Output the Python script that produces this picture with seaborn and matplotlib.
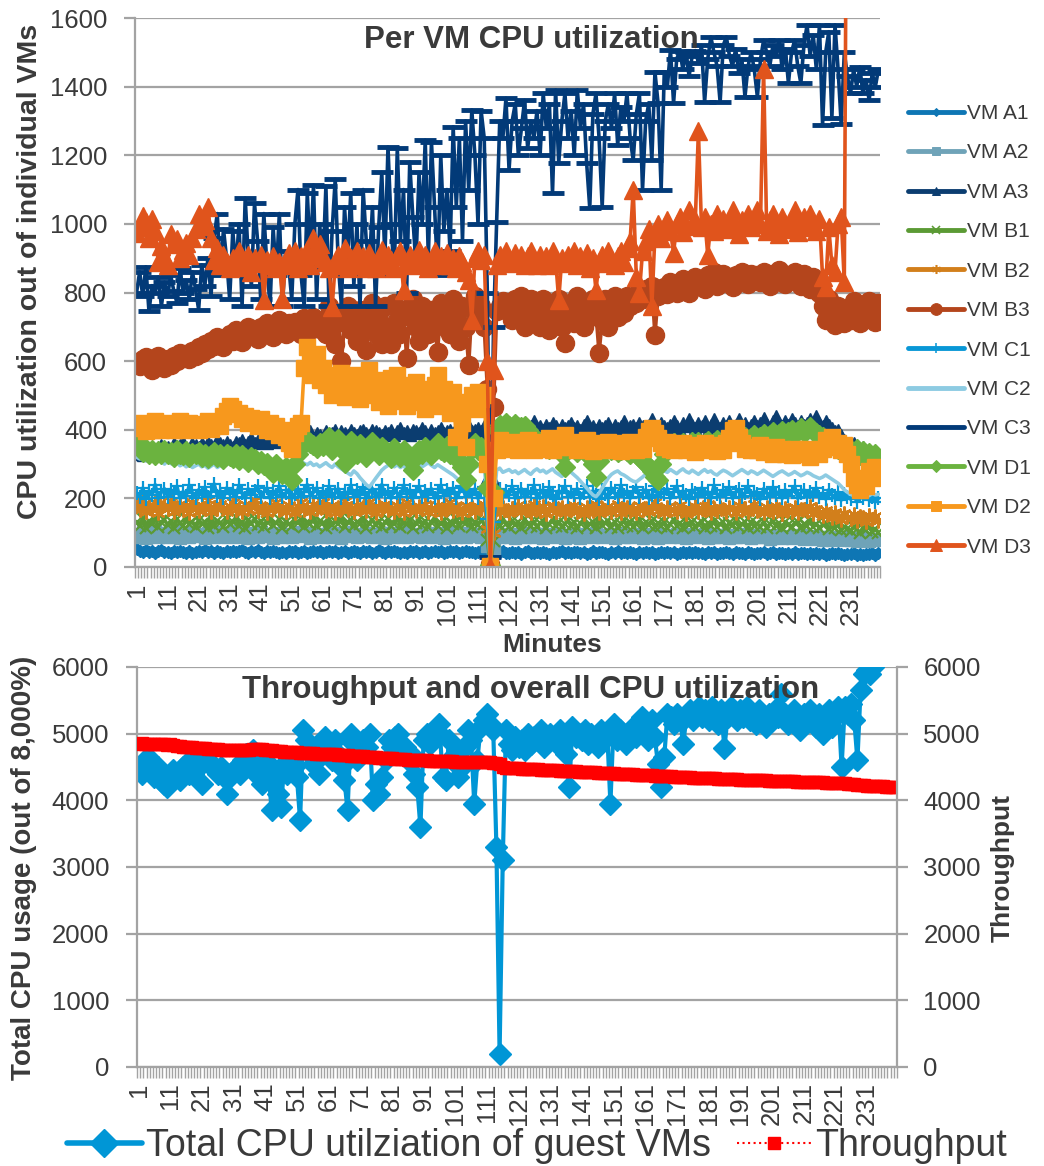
import matplotlib
matplotlib.use("Agg")
import matplotlib.pyplot as plt
import numpy as np
import seaborn as sns
from matplotlib.lines import Line2D

nan = float("nan")

MINUTES = list(range(1, 241))
XTICK_LABELS = list(range(1, 232, 10))

VM_A1 = [
    52, 48, 45, 50, 44, 47, 42, 46, 49, 44, 45, 41, 47, 43, 48, 44, 40, 46, 42, 45,
    47, 43, 49, 44, 46, 42, 48, 45, 41, 47, 44, 48, 43, 46, 50, 45, 42, 47, 44, 49,
    45, 41, 46, 43, 48, 44, 40, 45, 42, 47, 43, 46, 41, 45, 48, 42, 44, 47, 43, 46,
    42, 45, 48, 43, 46, 41, 44, 47, 42, 45, 48, 44, 41, 46, 43, 47, 42, 45, 49, 44,
    41, 46, 43, 48, 44, 40, 45, 42, 47, 43, 46, 41, 45, 48, 42, 44, 47, 43, 46, 41,
    45, 48, 43, 46, 42, 44, 47, 43, 45, 41, 44, 46, 42, 30, 0, 28, 40, 43, 46, 42,
    40, 44, 41, 45, 39, 43, 46, 42, 40, 44, 41, 45, 42, 39, 44, 40, 43, 46, 41, 44,
    40, 43, 45, 41, 44, 39, 42, 46, 40, 43, 45, 41, 39, 44, 42, 46, 40, 43, 41, 45,
    42, 39, 44, 41, 45, 40, 43, 38, 42, 44, 40, 43, 41, 45, 39, 42, 44, 40, 43, 41,
    44, 40, 42, 38, 43, 41, 45, 39, 42, 40, 43, 41, 38, 44, 40, 42, 39, 43, 41, 38,
    42, 40, 44, 39, 41, 43, 38, 42, 40, 37, 41, 39, 43, 38, 42, 40, 37, 41, 39, 42,
    38, 40, 36, 39, 41, 37, 40, 38, 36, 39, 37, 40, 36, 38, 35, 39, 37, 40, 36, 42,
]
VM_A2 = [
    95, 88, 102, 84, 97, 90, 105, 86, 93, 99, 87, 96, 91, 104, 85, 98, 92, 88, 101, 94,
    89, 97, 84, 100, 92, 87, 103, 95, 90, 86, 98, 92, 105, 88, 95, 90, 84, 99, 93, 87,
    101, 94, 89, 97, 85, 92, 100, 88, 95, 91, 86, 98, 93, 102, 89, 95, 84, 99, 91, 96,
    88, 94, 101, 87, 93, 98, 85, 96, 90, 103, 92, 87, 97, 89, 100, 94, 86, 95, 91, 98,
    85, 93, 99, 88, 96, 90, 104, 87, 94, 89, 97, 92, 86, 100, 91, 95, 88, 98, 93, 85,
    96, 90, 102, 88, 94, 99, 86, 92, 97, 89, 95, 88, 100, 60, 2, 55, 92, 86, 97, 90,
    88, 94, 85, 97, 90, 86, 99, 92, 87, 95, 91, 84, 96, 89, 93, 87, 98, 90, 85, 94,
    88, 96, 91, 84, 97, 89, 93, 86, 99, 90, 87, 93, 89, 96, 84, 91, 98, 88, 94, 86,
    92, 89, 97, 85, 93, 88, 95, 90, 84, 96, 89, 94, 86, 91, 97, 88, 92, 85, 95, 90,
    86, 93, 89, 96, 84, 91, 88, 94, 87, 92, 90, 85, 93, 88, 95, 86, 91, 89, 84, 92,
    88, 94, 86, 90, 83, 92, 87, 89, 85, 91, 87, 84, 90, 86, 92, 83, 88, 85, 90, 82,
    86, 80, 84, 88, 78, 85, 81, 87, 79, 83, 80, 85, 77, 82, 79, 84, 76, 81, 78, 83,
]
VM_A3 = [
    330, 340, 325, 345, 335, 350, 330, 345, 355, 340, 350, 345, 360, 340, 355, 365, 350, 345, 360, 355,
    350, 360, 345, 365, 355, 350, 370, 360, 355, 365, 355, 350, 365, 360, 370, 355, 365, 375, 360, 370,
    365, 375, 360, 370, 380, 365, 375, 370, 385, 375, 370, 380, 375, 390, 380, 385, 395, 380, 390, 385,
    380, 395, 385, 390, 400, 385, 395, 390, 385, 400, 390, 385, 395, 400, 390, 385, 400, 395, 390, 385,
    395, 390, 400, 385, 395, 405, 390, 395, 385, 400, 395, 390, 405, 395, 385, 400, 390, 395, 405, 390,
    395, 400, 390, 405, 395, 400, 390, 410, 395, 400, 405, 395, 410, 260, 5, 250, 400, 410, 420, 405,
    415, 400, 410, 420, 405, 415, 400, 410, 425, 405, 410, 400, 415, 405, 420, 410, 400, 415, 405, 410,
    420, 405, 410, 400, 415, 425, 405, 410, 400, 415, 405, 410, 420, 400, 415, 405, 410, 425, 400, 410,
    415, 405, 420, 410, 400, 415, 430, 410, 405, 420, 410, 405, 415, 425, 410, 400, 420, 410, 430, 415,
    405, 420, 410, 425, 400, 415, 430, 410, 405, 420, 410, 425, 405, 415, 430, 410, 420, 405, 415, 425,
    410, 420, 435, 415, 405, 425, 440, 420, 410, 425, 415, 430, 420, 410, 425, 415, 420, 430, 410, 440,
    420, 410, 425, 415, 405, 395, 400, 385, 370, 355, 345, 360, 340, 335, 350, 330, 340, 325, 335, 320,
]
VM_B1 = [
    130, 120, 140, 115, 135, 125, 145, 118, 130, 138, 122, 135, 115, 140, 128, 120, 145, 125, 132, 118,
    138, 125, 130, 115, 142, 120, 135, 128, 118, 140, 125, 132, 145, 120, 130, 115, 138, 126, 140, 122,
    135, 118, 130, 145, 122, 128, 140, 115, 132, 125, 120, 138, 128, 142, 118, 130, 125, 145, 120, 135,
    128, 115, 140, 122, 133, 126, 145, 118, 130, 138, 120, 132, 125, 142, 115, 128, 138, 122, 135, 118,
    130, 140, 120, 126, 145, 118, 132, 125, 138, 115, 128, 140, 122, 135, 118, 130, 145, 120, 126, 138,
    115, 132, 125, 140, 120, 135, 128, 145, 118, 130, 122, 138, 125, 80, 2, 75, 130, 120, 140, 125,
    118, 135, 122, 130, 115, 140, 125, 120, 132, 118, 128, 135, 115, 125, 140, 120, 130, 118, 126, 136,
    120, 130, 115, 128, 138, 118, 125, 132, 115, 140, 122, 128, 135, 118, 130, 115, 126, 138, 120, 132,
    118, 125, 140, 115, 130, 122, 135, 118, 128, 120, 132, 115, 125, 138, 120, 128, 115, 135, 122, 130,
    118, 126, 132, 115, 128, 120, 135, 118, 125, 130, 115, 128, 122, 135, 118, 125, 130, 115, 132, 120,
    126, 118, 130, 115, 125, 135, 120, 128, 115, 130, 122, 118, 128, 132, 115, 125, 120, 135, 118, 126,
    115, 122, 128, 110, 120, 115, 125, 108, 118, 112, 105, 118, 110, 100, 115, 108, 120, 102, 112, 100,
]
VM_B2 = [
    185, 165, 195, 160, 178, 170, 190, 158, 175, 182, 168, 192, 160, 175, 185, 165, 180, 158, 190, 172,
    162, 180, 170, 195, 160, 175, 168, 185, 172, 160, 178, 190, 165, 172, 160, 185, 170, 178, 195, 162,
    175, 168, 158, 182, 170, 190, 165, 175, 160, 180, 170, 158, 178, 188, 165, 172, 160, 185, 168, 175,
    190, 162, 170, 180, 158, 175, 168, 192, 165, 172, 160, 182, 170, 175, 162, 188, 168, 158, 178, 170,
    185, 165, 172, 160, 180, 170, 158, 190, 168, 175, 162, 178, 170, 185, 160, 172, 165, 182, 158, 175,
    168, 190, 162, 175, 170, 158, 182, 165, 175, 160, 178, 168, 185, 110, 3, 100, 170, 160, 175, 165,
    158, 172, 168, 180, 160, 175, 165, 158, 185, 170, 162, 178, 155, 170, 182, 160, 168, 175, 158, 172,
    165, 180, 160, 170, 155, 175, 168, 162, 185, 158, 172, 165, 178, 160, 170, 185, 158, 168, 175, 162,
    170, 158, 180, 165, 172, 160, 175, 190, 162, 168, 158, 175, 165, 170, 160, 182, 168, 155, 172, 165,
    178, 160, 170, 165, 185, 158, 172, 162, 175, 168, 160, 175, 168, 158, 180, 165, 172, 160, 170, 185,
    162, 170, 158, 175, 165, 160, 178, 168, 155, 172, 165, 160, 175, 158, 170, 168, 162, 178, 155, 170,
    160, 148, 165, 155, 142, 160, 150, 138, 158, 145, 140, 155, 135, 150, 145, 130, 152, 140, 148, 135,
]
VM_B3 = [
    598, 585, 605, 612, 590, 575, 600, 615, 595, 580, 605, 590, 615, 600, 625, 610, 620, 605, 630, 615,
    640, 625, 650, 635, 660, 645, 670, 655, 640, 665, 680, 660, 690, 670, 655, 685, 700, 675, 690, 665,
    700, 685, 710, 690, 670, 705, 720, 695, 680, 710, 690, 715, 700, 680, 725, 705, 690, 730, 710, 695,
    720, 680, 760, 700, 650, 740, 600, 710, 760, 690, 730, 660, 750, 700, 632, 720, 770, 680, 740, 650,
    760, 700, 650, 770, 720, 680, 750, 610, 730, 780, 700, 660, 760, 720, 680, 750, 700, 627, 770, 710,
    740, 680, 780, 720, 660, 760, 700, 589, 750, 790, 720, 760, 700, 520, 10, 466, 745, 760, 775, 750,
    765, 720, 780, 740, 790, 700, 760, 780, 730, 770, 700, 780, 740, 690, 770, 720, 780, 700, 653, 740,
    770, 710, 790, 740, 700, 770, 730, 780, 740, 623, 720, 780, 700, 760, 790, 730, 780, 740, 790, 760,
    790, 770, 800, 780, 810, 795, 820, 676, 790, 805, 815, 795, 830, 810, 800, 825, 840, 815, 800, 830,
    845, 820, 835, 810, 850, 830, 860, 820, 840, 855, 830, 845, 815, 850, 835, 860, 840, 825, 855, 835,
    850, 830, 860, 840, 820, 855, 835, 865, 845, 825, 850, 835, 860, 840, 820, 855, 830, 810, 845, 825,
    800, 760, 720, 780, 740, 705, 760, 730, 710, 750, 720, 775, 740, 710, 760, 730, 775, 745, 715, 770,
]
VM_C1 = [
    215, 205, 230, 198, 222, 210, 240, 200, 218, 228, 205, 225, 212, 235, 200, 220, 208, 238, 215, 202,
    225, 210, 232, 205, 218, 242, 208, 222, 200, 230, 212, 225, 205, 238, 215, 200, 228, 210, 222, 235,
    205, 218, 230, 200, 222, 210, 236, 205, 215, 225, 200, 212, 228, 205, 220, 240, 208, 218, 230, 202,
    222, 210, 235, 205, 215, 228, 200, 220, 212, 238, 205, 225, 210, 232, 200, 218, 228, 205, 215, 240,
    210, 222, 200, 230, 215, 205, 238, 212, 225, 200, 218, 235, 205, 222, 210, 228, 200, 215, 238, 208,
    225, 212, 230, 200, 218, 235, 205, 222, 210, 228, 200, 218, 232, 140, 1, 130, 215, 228, 205, 222,
    210, 235, 200, 218, 228, 205, 222, 212, 238, 200, 215, 225, 205, 232, 210, 198, 222, 215, 235, 205,
    220, 210, 228, 200, 215, 235, 205, 222, 210, 198, 225, 212, 200, 230, 215, 205, 238, 210, 222, 200,
    218, 232, 205, 215, 225, 200, 210, 235, 205, 220, 212, 228, 200, 218, 235, 205, 222, 210, 198, 225,
    215, 205, 230, 210, 220, 200, 238, 212, 205, 225, 210, 232, 200, 218, 226, 205, 215, 235, 208, 220,
    212, 198, 228, 215, 205, 232, 210, 220, 200, 225, 208, 218, 235, 200, 215, 225, 205, 220, 210, 230,
    205, 215, 198, 225, 210, 200, 218, 195, 212, 205, 198, 215, 190, 208, 200, 212, 195, 205, 190, 200,
]
VM_C2 = [
    320, 315, 318, 310, 322, 312, 305, 315, 308, 300, 310, 302, 298, 305, 295, 300, 292, 298, 290, 295,
    300, 292, 296, 288, 294, 300, 290, 296, 292, 298, 305, 295, 300, 292, 298, 290, 296, 302, 294, 288,
    292, 286, 280, 288, 275, 270, 282, 278, 268, 285, 290, 296, 300, 308, 302, 298, 305, 296, 300, 292,
    298, 304, 296, 290, 300, 292, 286, 280, 274, 268, 280, 272, 260, 250, 240, 233, 245, 258, 270, 282,
    290, 296, 300, 292, 298, 290, 296, 284, 278, 290, 296, 300, 292, 298, 304, 296, 290, 298, 292, 286,
    280, 274, 268, 260, 252, 246, 258, 270, 282, 290, 294, 300, 296, 190, 2, 180, 282, 288, 276, 280,
    284, 276, 280, 272, 278, 284, 276, 270, 280, 286, 278, 282, 274, 280, 286, 276, 270, 264, 272, 280,
    276, 268, 260, 250, 240, 230, 220, 210, 205, 215, 230, 245, 260, 270, 276, 280, 272, 268, 262, 255,
    250, 248, 255, 262, 270, 276, 280, 274, 268, 275, 280, 276, 284, 278, 272, 280, 286, 278, 274, 282,
    276, 270, 278, 284, 276, 280, 272, 268, 276, 282, 278, 272, 266, 272, 278, 284, 278, 272, 280, 276,
    270, 276, 282, 276, 270, 264, 270, 276, 280, 274, 268, 272, 278, 272, 266, 270, 276, 272, 266, 262,
    258, 262, 268, 262, 256, 250, 244, 235, 225, 218, 212, 208, 215, 210, 206, 212, 208, 214, 210, 212,
]
VM_C3 = [
    800, 860, 790, 875, 745, 820, 800, 845, 760, 830, 790, 850, 805, 770, 870, 800, 835, 780, 860, 810,
    750, 880, 820, 900, 790, 960, 1030, 850, 985, 900, 780, 980, 870, 1000, 760, 1075, 900, 820, 1060, 950,
    780, 1030, 880, 760, 990, 850, 1030, 760, 920, 880, 780, 1000, 1100, 850, 760, 1090, 900, 1113, 780, 1000,
    870, 1110, 760, 980, 1130, 880, 760, 1050, 900, 1090, 820, 1000, 760, 1100, 950, 880, 1050, 760, 990, 1150,
    900, 1224, 1000, 850, 1220, 950, 1100, 800, 1180, 1020, 880, 1150, 1000, 1244, 900, 1240, 1050, 850, 1200, 980,
    1100, 920, 1283, 1050, 1250, 950, 1300, 1100, 1332, 1200, 1000, 1330, 1250, 800, 30, 700, 1006, 1300, 1250, 1366,
    1157, 1300, 1350, 1200, 1280, 1360, 1220, 1300, 1250, 1330, 1200, 1380, 1280, 1350, 1090, 1390, 1177, 1300, 1380, 1250,
    1330, 1200, 1390, 1280, 1350, 1177, 1046, 1320, 1380, 1250, 1049, 1300, 1350, 1280, 1380, 1230, 1340, 1300, 1380, 1250,
    1186, 1320, 1380, 1099, 1300, 1350, 1186, 1443, 1352, 1100, 1443, 1400, 1507, 1352, 1480, 1505, 1450, 1500, 1430, 1490,
    1505, 1470, 1520, 1355, 1480, 1545, 1500, 1460, 1355, 1520, 1545, 1490, 1460, 1510, 1440, 1480, 1370, 1460, 1500, 1450,
    1370, 1480, 1535, 1500, 1460, 1520, 1490, 1535, 1450, 1510, 1410, 1500, 1535, 1460, 1410, 1520, 1580, 1490, 1550, 1450,
    1580, 1288, 1500, 1560, 1310, 1580, 1450, 1290, 1500, 1430, 1380, 1450, 1400, 1457, 1380, 1420, 1360, 1440, 1400, 1450,
]
VM_D1 = [
    364, 350, 335, 345, 330, 340, 325, 338, 330, 342, 328, 335, 322, 340, 330, 326, 338, 320, 332, 328,
    335, 322, 330, 318, 326, 334, 320, 328, 316, 330, 324, 318, 330, 312, 325, 318, 306, 322, 314, 300,
    310, 296, 304, 290, 274, 300, 285, 270, 290, 262, 254, 300, 330, 350, 365, 370, 362, 355, 348, 360,
    352, 365, 378, 340, 360, 372, 345, 303, 350, 368, 340, 330, 358, 346, 320, 352, 364, 338, 326, 350,
    342, 330, 318, 346, 334, 320, 340, 328, 312, 283, 320, 342, 330, 350, 338, 325, 345, 360, 340, 335,
    352, 330, 345, 320, 310, 290, 254, 300, 345, 360, 340, 350, 330, 230, 5, 220, 400, 415, 405, 420,
    410, 400, 418, 395, 408, 412, 398, 385, 380, 370, 365, 358, 352, 345, 360, 350, 340, 330, 292, 340,
    352, 346, 335, 350, 340, 330, 320, 300, 262, 310, 330, 345, 352, 340, 348, 335, 342, 350, 338, 330,
    342, 330, 320, 310, 300, 290, 280, 262, 254, 300, 330, 345, 352, 360, 348, 355, 362, 350, 356, 365,
    358, 364, 352, 360, 368, 356, 362, 370, 358, 366, 372, 360, 368, 376, 364, 372, 380, 368, 376, 384,
    372, 380, 388, 376, 384, 392, 380, 388, 396, 385, 392, 400, 388, 396, 404, 392, 400, 408, 396, 390,
    385, 378, 370, 362, 356, 350, 345, 340, 350, 335, 340, 330, 345, 325, 338, 320, 332, 318, 328, 315,
]
VM_D2 = [
    410, 405, 420, 395, 415, 400, 425, 410, 398, 418, 405, 420, 400, 415, 425, 398, 410, 420, 405, 415,
    400, 418, 408, 425, 402, 415, 420, 410, 440, 455, 470, 460, 445, 450, 430, 440, 420, 435, 425, 410,
    430, 415, 400, 420, 395, 410, 385, 400, 380, 360, 345, 390, 410, 420, 580, 640, 600, 560, 620, 545,
    580, 530, 560, 500, 540, 520, 565, 495, 530, 550, 510, 560, 490, 540, 520, 575, 500, 530, 480, 545,
    515, 470, 550, 500, 560, 485, 530, 470, 520, 500, 540, 480, 520, 460, 510, 490, 530, 560, 470, 520,
    490, 450, 510, 380, 470, 420, 350, 480, 500, 460, 510, 490, 500, 300, 4, 200, 340, 370, 350, 360,
    345, 365, 350, 340, 360, 345, 370, 355, 340, 365, 350, 345, 360, 375, 340, 365, 350, 370, 385, 360,
    350, 365, 340, 358, 345, 370, 352, 338, 360, 345, 355, 340, 365, 350, 345, 360, 338, 355, 345, 365,
    350, 340, 360, 345, 380, 395, 405, 390, 375, 360, 350, 365, 345, 340, 358, 345, 360, 340, 355, 345,
    335, 350, 345, 360, 340, 355, 345, 338, 352, 340, 360, 375, 400, 405, 380, 360, 345, 350, 340, 345,
    340, 355, 335, 348, 340, 330, 350, 335, 345, 330, 340, 325, 345, 332, 340, 328, 345, 320, 335, 342,
    330, 345, 370, 365, 380, 350, 362, 340, 355, 330, 300, 260, 240, 225, 250, 235, 280, 260, 290, 285,
]
VM_D3 = [
    973, 990, 1022, 1005, 960, 1015, 980, 890, 935, 905, 880, 970, 940, 955, 900, 925, 945, 910, 960, 985,
    1030, 995, 1010, 1050, 960, 895, 930, 880, 910, 890, 870, 900, 885, 920, 875, 895, 910, 860, 900, 885,
    910, 778, 895, 880, 905, 870, 890, 780, 880, 915, 890, 920, 870, 905, 895, 925, 880, 960, 910, 940,
    900, 890, 870, 758, 880, 910, 890, 930, 870, 900, 895, 920, 880, 905, 870, 915, 890, 870, 900, 925,
    880, 910, 895, 870, 905, 920, 807, 890, 910, 880, 900, 925, 885, 910, 870, 895, 920, 880, 905, 890,
    915, 880, 900, 870, 905, 890, 860, 836, 720, 900, 920, 895, 910, 600, 0, 575, 880, 910, 895, 920,
    900, 885, 915, 890, 910, 880, 905, 920, 895, 880, 910, 890, 905, 880, 920, 895, 778, 900, 885, 910,
    895, 920, 880, 905, 890, 915, 870, 900, 807, 890, 910, 885, 920, 895, 880, 905, 920, 890, 930, 950,
    1100, 845, 800, 920, 950, 985, 760, 970, 1000, 960, 990, 1010, 980, 915, 1000, 1020, 975, 995, 1040, 1000,
    1010, 1270, 990, 1020, 910, 1000, 980, 1030, 995, 1015, 985, 1005, 1040, 990, 970, 1010, 1000, 1030, 990, 1010,
    1040, 1000, 1450, 980, 1010, 1030, 995, 970, 1020, 1000, 985, 1010, 1040, 975, 1000, 1020, 990, 1030, 1000, 980,
    1015, 845, 815, 990, 880, 860, 1000, 1020, 830, 2600, nan, nan, nan, nan, nan, nan, nan, nan, nan, nan,
]

TOTAL_CPU = [
    4500, 4400, 4550, 4650, 4450, 4350, 4500, 4300, 4250, 4200, 4400, 4450, 4350, 4300, 4500, 4550, 4400, 4600, 4650, 4500,
    4250, 4700, 4600, 4550, 4450, 4400, 4500, 4350, 4100, 4350, 4450, 4500, 4400, 4600, 4700, 4650, 4750, 4500, 4350, 4250,
    4600, 4450, 3850, 4300, 4100, 3900, 4550, 4400, 4600, 4500, 4350, 3700, 5050, 4900, 4700, 4550, 4800, 4400, 4700, 4950,
    4800, 4600, 4900, 4700, 4500, 4300, 3850, 5000, 4850, 4600, 4700, 4900, 4800, 5000, 4000, 4250, 4100, 4350, 4600, 4900,
    4800, 4950, 5000, 4850, 4800, 4600, 4700, 4400, 4200, 3600, 4900, 5000, 4850, 4950, 5050, 5150, 4350, 4300, 4900, 4600,
    4700, 4350, 4500, 4800, 5050, 4900, 3950, 4600, 5100, 5200, 5300, 5150, 5050, 3300, 200, 3100, 5050, 4850, 4750, 4950,
    4800, 4900, 4750, 5000, 4850, 4950, 4900, 5050, 4800, 4900, 5000, 4950, 4850, 5050, 4900, 4700, 4200, 5100, 4950, 5000,
    4900, 5050, 4850, 5000, 4950, 4800, 5050, 4900, 5000, 3950, 5150, 4900, 5050, 4950, 4850, 5000, 5100, 4950, 5150, 5250,
    5050, 4900, 5200, 4950, 4550, 4200, 4650, 5300, 5250, 5150, 5300, 5200, 4850, 5250, 5350, 5200, 5300, 5400, 5250, 5350,
    5200, 5400, 5300, 5150, 5350, 4780, 5250, 5400, 5300, 5200, 5350, 5250, 5400, 5200, 5300, 5150, 5350, 5250, 5100, 5300,
    5200, 5350, 5250, 5600, 5300, 5150, 5250, 5350, 5200, 5050, 5300, 5200, 5350, 5250, 5100, 5300, 5000, 5200, 5350, 5100,
    5250, 5400, 4500, 5400, 5300, 5450, 5200, 4600, 5650, 5900, 5950, 5900, 6000, nan, nan, nan, nan, nan, nan, nan,
]
THROUGHPUT = [
    4850, 4855, 4850, 4845, 4850, 4840, 4845, 4850, 4845, 4835, 4840, 4830, 4820, 4810, 4800, 4805, 4800, 4795, 4790, 4785,
    4780, 4780, 4775, 4770, 4770, 4765, 4760, 4760, 4760, 4755, 4755, 4750, 4755, 4750, 4755, 4760, 4765, 4770, 4770, 4765,
    4760, 4755, 4750, 4745, 4740, 4735, 4730, 4730, 4725, 4720, 4720, 4715, 4715, 4710, 4710, 4705, 4700, 4700, 4700, 4695,
    4695, 4690, 4690, 4685, 4680, 4680, 4675, 4670, 4670, 4665, 4660, 4660, 4655, 4650, 4650, 4645, 4640, 4640, 4635, 4630,
    4630, 4625, 4620, 4620, 4615, 4610, 4610, 4605, 4605, 4600, 4600, 4600, 4595, 4595, 4590, 4590, 4590, 4585, 4585, 4585,
    4580, 4580, 4580, 4580, 4575, 4575, 4575, 4575, 4570, 4570, 4570, 4570, 4565, 4560, 4540, 4500, 4490, 4485, 4485, 4480,
    4480, 4475, 4475, 4470, 4470, 4465, 4465, 4460, 4460, 4455, 4455, 4450, 4450, 4445, 4445, 4440, 4440, 4435, 4435, 4430,
    4430, 4425, 4425, 4420, 4420, 4415, 4415, 4410, 4410, 4405, 4405, 4400, 4400, 4395, 4395, 4390, 4390, 4385, 4385, 4380,
    4380, 4375, 4375, 4370, 4370, 4365, 4365, 4360, 4360, 4355, 4355, 4350, 4350, 4345, 4345, 4340, 4340, 4340, 4335, 4335,
    4330, 4330, 4330, 4325, 4325, 4320, 4320, 4320, 4315, 4315, 4310, 4310, 4310, 4305, 4305, 4305, 4300, 4300, 4300, 4295,
    4295, 4295, 4290, 4290, 4290, 4285, 4285, 4285, 4280, 4280, 4280, 4275, 4275, 4275, 4270, 4270, 4270, 4265, 4265, 4265,
    4260, 4260, 4255, 4255, 4250, 4245, 4240, 4235, 4230, 4225, 4222, 4219, 4216, 4213, 4210, 4208, 4206, 4204, 4202, 4200,
]

# name, values, colour, marker, marker size, marker edge width
SERIES = [
    ("VM A1", VM_A1, "#0E76B4", "D", 6, 1.0),
    ("VM A2", VM_A2, "#6FA3B8", "s", 8, 1.0),
    ("VM A3", VM_A3, "#0B3D70", "^", 8, 1.0),
    ("VM B1", VM_B1, "#5B9A34", "x", 8, 1.6),
    ("VM B2", VM_B2, "#D27F1B", (6, 2, 0), 10, 1.6),
    ("VM B3", VM_B3, "#B4451C", "o", 13, 1.0),
    ("VM C1", VM_C1, "#0997D6", "+", 10, 1.6),
    ("VM C2", VM_C2, "#8DCBE2", None, 0, 0),
    ("VM C3", VM_C3, "#023A78", "_", 16, 3.5),
    ("VM D1", VM_D1, "#6BB33F", "D", 10, 1.0),
    ("VM D2", VM_D2, "#F7981D", "s", 12, 1.0),
    ("VM D3", VM_D3, "#E0541C", "^", 13, 1.0),
]

GRID = "#A3A3A3"
TEXT = "#3A3A3A"
W, H = 1044, 1166

sns.set_theme(style="white")
plt.rcParams["font.family"] = ["Liberation Sans", "DejaVu Sans"]

fig = plt.figure(figsize=(W / 100, H / 100), dpi=100)


def style_axis(ax, ymax, ystep):
    ax.set_xlim(0.5, 240.5)
    ax.set_ylim(0, ymax)
    ax.set_yticks(np.arange(0, ymax + 1, ystep))
    ax.yaxis.grid(True, color=GRID, lw=1.6)
    ax.xaxis.grid(False)
    ax.set_axisbelow(True)
    for side in ("top", "right"):
        ax.spines[side].set_visible(False)
    for side in ("left", "bottom"):
        ax.spines[side].set_color(GRID)
        ax.spines[side].set_linewidth(1.6)
    ax.set_xticks(XTICK_LABELS)
    ax.set_xticklabels([str(v) for v in XTICK_LABELS], rotation=90)
    ax.set_xticks(np.arange(0.5, 241, 1), minor=True)
    ax.tick_params(axis="x", which="major", length=0, pad=11, labelsize=18.5, labelcolor=TEXT)
    ax.tick_params(axis="x", which="minor", length=8, width=1.0, color=GRID, bottom=True)
    ax.tick_params(axis="y", length=8, width=1.6, color=GRID, pad=12, labelsize=18.5,
                   labelcolor=TEXT, left=True)
    ax.set_xlabel("")
    ax.set_ylabel("")


# ── top: per VM utilisation ─────────────────────────────────────────────
ax1 = fig.add_axes([135 / W, 1 - 567 / H, 745 / W, 549 / H])
for name, vals, color, marker, ms, mew in SERIES:
    sns.lineplot(x=MINUTES, y=vals, ax=ax1, color=color, lw=2.6, marker=marker,
                 markersize=ms, markeredgewidth=mew, markeredgecolor=color,
                 label=name, legend=False)
style_axis(ax1, 1600, 200)

handles = [Line2D([], [], color=c, lw=3.5, marker=m, markersize=ms * 0.65,
                  markeredgewidth=mew * 0.7, markeredgecolor=c)
           for _, _, c, m, ms, mew in SERIES]
fig.legend(handles, [s[0] for s in SERIES], loc="upper left",
           bbox_to_anchor=(908 / W, 1 - 104 / H), frameon=False, fontsize=15,
           handlelength=2.7, handletextpad=0.15, labelspacing=0.98,
           borderaxespad=0, borderpad=0, labelcolor=TEXT)

fig.text(531 / W, 1 - 40 / H, "Per VM CPU utilization", ha="center", va="center",
         fontsize=22.5, fontweight="bold", color=TEXT)
fig.text(30 / W, 1 - 271 / H, "CPU utilization out of individual VMs", rotation=90,
         ha="center", va="center", fontsize=20.5, fontweight="bold", color=TEXT)
fig.text(552 / W, 1 - 645 / H, "Minutes", ha="center", va="center",
         fontsize=19, fontweight="bold", color=TEXT)

# ── bottom: throughput and total CPU ────────────────────────────────────
ax2 = fig.add_axes([137 / W, 1 - 1067 / H, 760 / W, 400 / H])
sns.lineplot(x=MINUTES, y=TOTAL_CPU, ax=ax2, color="#0096D6", lw=3, marker="D",
             markersize=11, markeredgewidth=1, markeredgecolor="#0096D6", legend=False)
style_axis(ax2, 6000, 1000)

ax3 = ax2.twinx()
sns.lineplot(x=MINUTES, y=THROUGHPUT, ax=ax3, color="#FF0000", lw=1.5, linestyle=":",
             marker="s", markersize=8, markeredgewidth=1, markeredgecolor="#FF0000",
             legend=False)
ax3.set_ylim(0, 6000)
ax3.set_yticks(np.arange(0, 6001, 1000))
ax3.set_ylabel("")
for side in ("top", "left", "bottom"):
    ax3.spines[side].set_visible(False)
ax3.spines["right"].set_visible(True)
ax3.spines["right"].set_color(GRID)
ax3.spines["right"].set_linewidth(1.6)
ax3.tick_params(axis="y", length=8, width=1.6, color=GRID, pad=11, labelsize=18.5,
                labelcolor=TEXT, right=True)
ax3.grid(False)

fig.text(531 / W, 1 - 690 / H, "Throughput and overall CPU utilization", ha="center",
         va="center", fontsize=22.5, fontweight="bold", color=TEXT)
fig.text(24 / W, 1 - 868 / H, "Total CPU usage (out of 8,000%)", rotation=90,
         ha="center", va="center", fontsize=20, fontweight="bold", color=TEXT)
fig.text(1003 / W, 1 - 868 / H, "Throughput", rotation=90, ha="center", va="center",
         fontsize=19, fontweight="bold", color=TEXT)

leg_handles = [
    Line2D([], [], color="#0096D6", lw=4, marker="D", markersize=14, markeredgecolor="#0096D6"),
    Line2D([], [], color="#FF0000", lw=1.5, linestyle=":", marker="s", markersize=9,
           markeredgecolor="#FF0000"),
]
fig.legend(leg_handles, ["Total CPU utilziation of guest VMs", "Throughput"], loc="center",
           bbox_to_anchor=(537 / W, 1 - 1146 / H), ncol=2, frameon=False, fontsize=27,
           handlelength=2.0, handletextpad=0.1, columnspacing=0.7, borderaxespad=0,
           borderpad=0, labelcolor=TEXT)

fig.savefig("out.png", dpi=100)
